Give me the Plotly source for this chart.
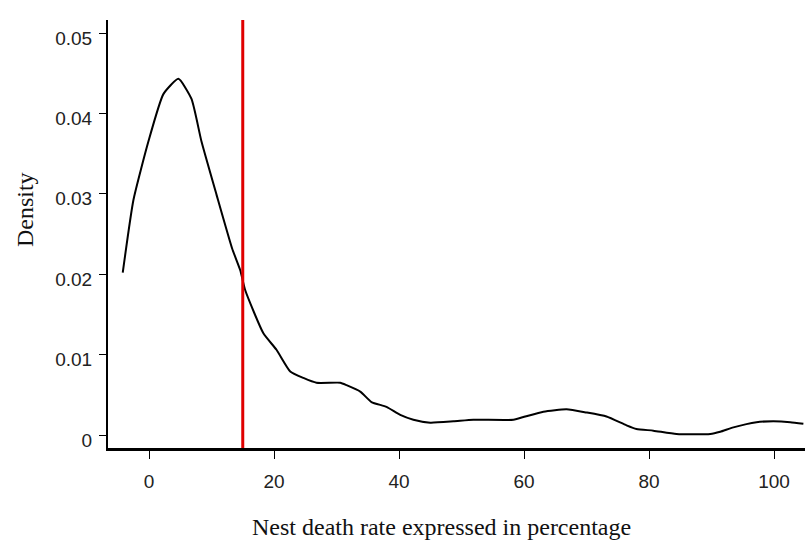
import plotly.graph_objects as go

# Density curve
death_rate = [-4.2, -2.5, -0.1, 2.3, 4.7, 6.8, 8.4, 10.8, 13.3, 14.6, 15.4, 18.3, 20.4,
              22.6, 24.7, 26.8, 30.6, 31.6, 33.8, 35.6, 38.0, 40.2, 42.3, 45.0, 48.7,
              51.9, 58.3, 60.2, 63.1, 66.8, 70.0, 73.2, 76.4, 78.0, 80.7, 84.4, 89.8,
              91.4, 93.5, 97.2, 99.9, 102.6, 104.7]
density = [0.0202, 0.0292, 0.0365, 0.0424, 0.0443, 0.0418, 0.0365, 0.0299, 0.0232,
           0.0205, 0.0180, 0.01265, 0.0106, 0.0079, 0.0071, 0.0065, 0.0065, 0.0062,
           0.0054, 0.0041, 0.0035, 0.0025, 0.0019, 0.00153, 0.0017, 0.0019, 0.0019,
           0.0023, 0.0029, 0.0032, 0.0028, 0.0023, 0.0012, 0.00075, 0.00054, 0.00012,
           0.00012, 0.0004, 0.00095, 0.0016, 0.0017, 0.0016, 0.0014]
threshold = 15.0

x_ticks = [0, 20, 40, 60, 80, 100]
y_ticks = [0, 0.01, 0.02, 0.03, 0.04, 0.05]
y_tick_labels = ["0", "0.01", "0.02", "0.03", "0.04", "0.05"]

fig = go.Figure()
fig.add_trace(go.Scatter(x=death_rate, y=density, mode="lines",
                         line=dict(color="black", width=2, shape="spline", smoothing=0.5),
                         showlegend=False, hoverinfo="skip"))
fig.add_shape(type="line", xref="x", yref="paper", x0=threshold, x1=threshold,
              y0=0, y1=1, line=dict(color="#e00000", width=3))

tick_font = dict(family="Liberation Sans, Arial, sans-serif", size=19, color="#222222")
title_font = dict(family="Liberation Serif, Times New Roman, serif", size=24, color="#111111")

fig.update_layout(
    width=805, height=540,
    margin=dict(l=108, r=0, t=20, b=92),
    paper_bgcolor="white", plot_bgcolor="white",
    xaxis=dict(range=[-6.56, 104.96], tickvals=x_ticks, showgrid=False, zeroline=False,
               showline=True, linecolor="black", linewidth=3,
               ticks="outside", ticklen=8, tickwidth=1, tickcolor="black",
               tickfont=tick_font, ticklabelstandoff=6),
    yaxis=dict(range=[-0.001617, 0.05162], tickvals=y_ticks, ticktext=y_tick_labels,
               showgrid=False, zeroline=False,
               showline=True, linecolor="black", linewidth=2,
               ticks="outside", ticklen=7, tickwidth=1, tickcolor="black",
               tickfont=tick_font, ticklabelshift=5, ticklabelstandoff=3),
    annotations=[
        dict(text="Nest death rate expressed in percentage", xref="paper", yref="paper",
             x=0.479, y=-0.1846, xanchor="center", yanchor="middle", showarrow=False,
             font=title_font),
        dict(text="Density", xref="paper", yref="paper", x=-0.119, y=0.556,
             xanchor="center", yanchor="middle", textangle=-90, showarrow=False,
             font=title_font),
    ],
)

fig.write_html("out.html")
